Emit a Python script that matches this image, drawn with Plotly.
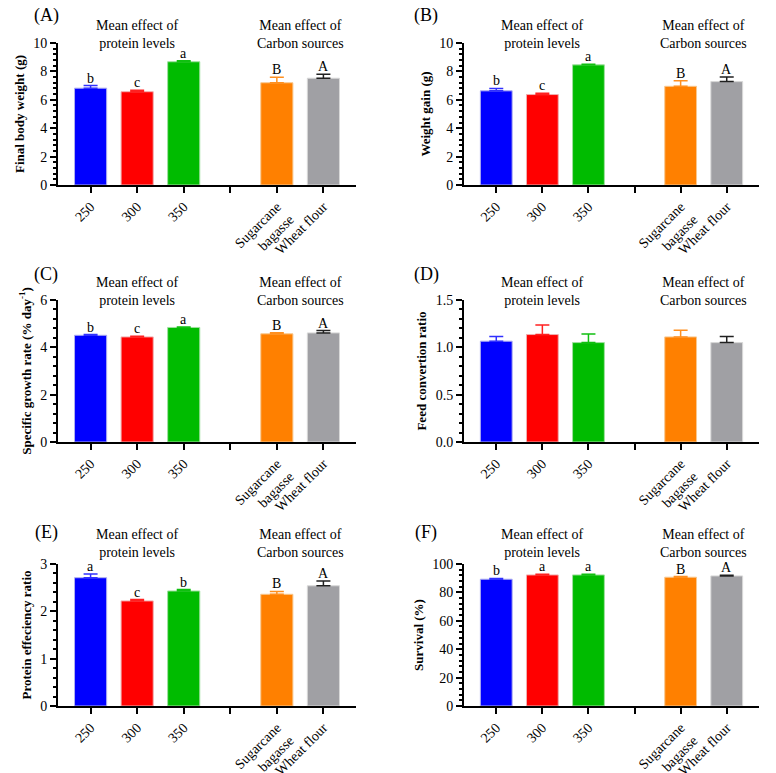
import plotly.graph_objects as go
from plotly.subplots import make_subplots

# categories (position 3 left empty as a spacer between the two groups)
categories = ["250", "300", "350", "", "Sugarcane<br>bagasse", "Wheat flour"]
bar_pos = [0, 1, 2, 4, 5]
bar_colors = ["#0000FF", "#FF0000", "#00BB00", "#FF8000", "#A0A0A4"]
err_colors = ["#3030FF", "#FF2020", "#10C010", "#FF9020", "#202020"]
edge_colors = ["#B0B0F0", "#F0B0B0", "#A0E0A0", "#F8C890", "#D8D8D8"]

# (A) final body weight
fbw_mean = [6.82, 6.57, 8.68, 7.20, 7.52]
fbw_err = [0.18, 0.11, 0.07, 0.38, 0.28]
fbw_letters = ["b", "c", "a", "B", "A"]
# (B) weight gain
wg_mean = [6.63, 6.37, 8.46, 6.95, 7.28]
wg_err = [0.17, 0.09, 0.05, 0.40, 0.32]
wg_letters = ["b", "c", "a", "B", "A"]
# (C) specific growth rate
sgr_mean = [4.51, 4.44, 4.84, 4.57, 4.61]
sgr_err = [0.03, 0.03, 0.02, 0.05, 0.10]
sgr_letters = ["b", "c", "a", "B", "A"]
# (D) feed convertion ratio
fcr_mean = [1.065, 1.135, 1.05, 1.11, 1.05]
fcr_err = [0.05, 0.10, 0.09, 0.07, 0.065]
fcr_letters = ["", "", "", "", ""]
# (E) protein effeciency ratio
per_mean = [2.71, 2.22, 2.43, 2.36, 2.54]
per_err = [0.08, 0.03, 0.03, 0.06, 0.10]
per_letters = ["a", "c", "b", "B", "A"]
# (F) survival
surv_mean = [89.3, 92.3, 92.3, 90.7, 91.6]
surv_err = [0.5, 0.5, 0.5, 0.5, 0.4]
surv_letters = ["b", "a", "a", "B", "A"]

panels = [
    ("(A)", "Final body weight (g)", fbw_mean, fbw_err, fbw_letters, 10, 2, 0.4, None),
    ("(B)", "Weight gain (g)", wg_mean, wg_err, wg_letters, 10, 2, 0.4, None),
    ("(C)", "Specific growth rate (% day<sup>-1</sup>)", sgr_mean, sgr_err, sgr_letters, 6, 2, 0.4, None),
    ("(D)", "Feed convertion ratio", fcr_mean, fcr_err, fcr_letters, 1.5, 0.5, 0.1, ".1f"),
    ("(E)", "Protein effeciency ratio", per_mean, per_err, per_letters, 3, 1, 0.2, None),
    ("(F)", "Survival (%)", surv_mean, surv_err, surv_letters, 100, 20, 4, None),
]

FONT = "Liberation Serif"

# the figure shows up 8px lower than its own origin, so shift vertical positions
W, H, YOFF = 776, 765, 8


def fx(px):
    return px / W


def fy(py):
    return 1 - (py - YOFF) / H


fig = make_subplots(rows=3, cols=2)

xdom = [[fx(50), fx(348)], [fx(456), fx(751)]]
ydom = [[fy(185), fy(43)], [fy(442), fy(300)], [fy(706), fy(564)]]
head_shift = [-10, -10, 2]  # row 3 headers sit a bit higher
label_xy = [(38, 16), (418, 16)]
row_off = [0, 258, 516]

for i, (lab, ytitle, means, errs, letters, ymax, dt, mdt, fmt) in enumerate(panels):
    r, c = i // 2 + 1, i % 2 + 1
    for j in range(5):
        fig.add_trace(go.Bar(
            x=[bar_pos[j]], y=[means[j]], width=0.69,
            marker=dict(color=bar_colors[j], line=dict(color=edge_colors[j], width=1)),
            error_y=dict(type="data", symmetric=False, array=[errs[j]], arrayminus=[0],
                         color=err_colors[j], thickness=1.5, width=7),
            showlegend=False, hoverinfo="y",
        ), row=r, col=c)
    n = i + 1
    xa = "x" if n == 1 else f"x{n}"
    ya = "y" if n == 1 else f"y{n}"
    fig.update_xaxes(domain=xdom[c - 1], range=[-0.7, 5.7], tickmode="array",
                     tickvals=list(range(6)), ticktext=categories, tickangle=-45,
                     showline=True, linecolor="black", linewidth=2, ticks="outside",
                     ticklen=6, tickwidth=2, tickcolor="black", showgrid=False, zeroline=False,
                     automargin=False,
                     tickfont=dict(family=FONT, size=14, color="black"), row=r, col=c)
    fig.update_yaxes(domain=ydom[r - 1], range=[0, ymax], dtick=dt, tick0=0,
                     tickformat=fmt if fmt else "", showline=True, linecolor="black",
                     linewidth=2, ticks="outside", ticklen=6, tickwidth=2, tickcolor="black",
                     minor=dict(dtick=mdt, ticks="outside", ticklen=3, tickwidth=1.5,
                                tickcolor="black", showgrid=False),
                     showgrid=False, zeroline=False, automargin=False,
                     tickfont=dict(family=FONT, size=14, color="black"),
                     title=dict(text=f"<b>{ytitle}</b>", standoff=6,
                                font=dict(family=FONT, size=13, color="black")),
                     row=r, col=c)
    # letters above error bars
    for j in range(5):
        if letters[j]:
            fig.add_annotation(x=bar_pos[j], y=means[j] + errs[j], xref=xa, yref=ya,
                               text=letters[j], showarrow=False, yanchor="bottom", yshift=-2,
                               font=dict(family=FONT, size=14, color="black"))
    # group headers
    for hx, htxt in [(1, "Mean effect of<br>protein levels"), (4.5, "Mean effect of<br>Carbon sources")]:
        fig.add_annotation(x=hx, y=1, xref=xa, yref=f"{ya} domain", yanchor="bottom",
                           yshift=head_shift[r - 1], text=htxt, showarrow=False,
                           font=dict(family=FONT, size=14, color="black"))
    # panel label
    lx, ly = label_xy[c - 1]
    fig.add_annotation(x=fx(lx), y=fy(ly + row_off[r - 1]), xref="paper", yref="paper",
                       xanchor="center", yanchor="middle", text=lab, showarrow=False,
                       font=dict(family=FONT, size=18, color="black"))

fig.update_layout(width=W, height=H, plot_bgcolor="white", paper_bgcolor="white",
                  margin=dict(l=0, r=0, t=0, b=0), bargap=0.3,
                  font=dict(family=FONT, color="black"))

fig.write_html("out.html")
